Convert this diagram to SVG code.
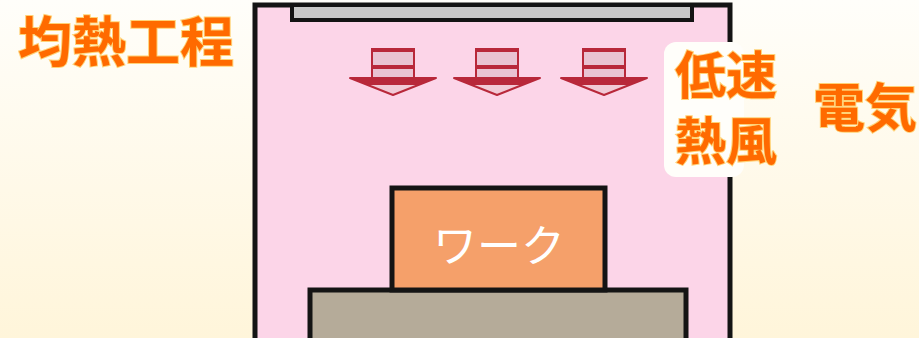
<svg xmlns="http://www.w3.org/2000/svg" width="919" height="338" viewBox="0 0 919 338">
  <defs>
    <linearGradient id="bg" x1="0" y1="0" x2="0" y2="1">
      <stop offset="0" stop-color="#fffefa"/>
      <stop offset="1" stop-color="#fff5da"/>
    </linearGradient>
    <g id="arrow">
      <rect x="-21" y="49" width="42" height="29" fill="#e9c3d2" stroke="#b8283a" stroke-width="2"/>
      <rect x="-21" y="48" width="42" height="4" fill="#b8283a"/>
      <rect x="-21" y="65" width="42" height="4" fill="#b8283a"/>
      <polygon points="-43,78 43,78 0,95" fill="#f1cad6" stroke="#b8283a" stroke-width="2" stroke-linejoin="round"/>
      <polygon points="-43,78 43,78 26,85 -26,85" fill="#b8283a"/>
    </g>
  </defs>
  <style>
    .lbl { font-family: "Noto Sans CJK JP", "Noto Sans", sans-serif; font-weight: 700; fill: #ff6a00; stroke: #ffd277; stroke-width: 2; paint-order: stroke; }
    .frame { stroke: #141414; stroke-width: 5; }
  </style>
  <rect x="0" y="0" width="919" height="338" fill="url(#bg)"/>

  <g id="chamber">
    <rect class="frame" x="255" y="5" width="475" height="360" fill="#fcd5e8"/>
  </g>

  <g id="heater">
    <rect x="292" y="5" width="400" height="15" fill="#c8c8c8" stroke="#141414" stroke-width="4"/>
  </g>

  <g id="airflow">
    <use href="#arrow" x="393" y="0"/>
    <use href="#arrow" x="497" y="0"/>
    <use href="#arrow" x="604" y="0"/>
  </g>

  <g id="base">
    <rect class="frame" x="310" y="290" width="376" height="70" fill="#b5ab99"/>
  </g>

  <g id="work">
    <rect class="frame" x="392" y="188" width="213" height="102" fill="#f5a06a"/>
    <text x="499" y="262" text-anchor="middle" font-family="Noto Sans CJK JP, sans-serif" font-size="44" font-weight="400" fill="#ffffff">ワーク</text>
  </g>

  <g id="wind-label">
    <rect x="664" y="42" width="80" height="135" rx="12" fill="#fffefa"/>
    <text class="lbl" x="675" y="94" font-size="51">低速</text>
    <text class="lbl" x="675" y="160" font-size="51">熱風</text>
  </g>

  <g id="title">
    <text class="lbl" x="18" y="62" font-size="54">均熱工程</text>
  </g>

  <g id="electric">
    <text class="lbl" x="813" y="127" font-size="52">電気</text>
  </g>
</svg>
